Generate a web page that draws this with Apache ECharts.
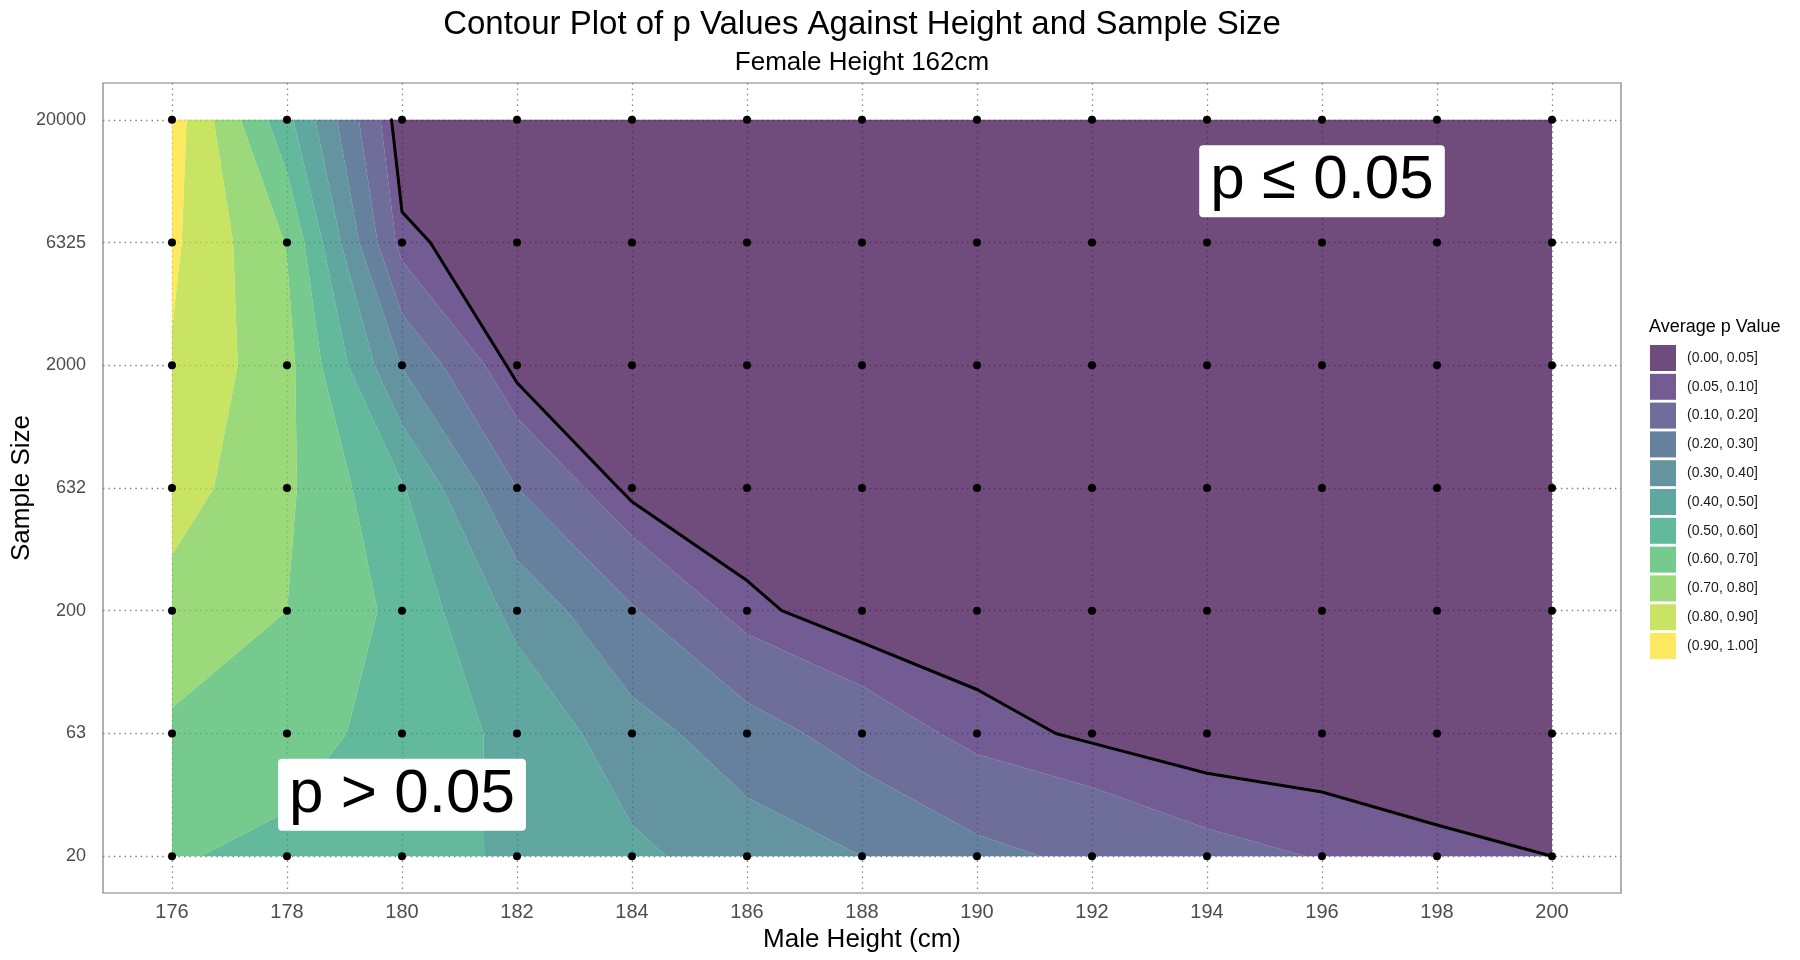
<!DOCTYPE html>
<html>
<head>
<meta charset="utf-8">
<title>Contour Plot of p Values Against Height and Sample Size</title>
<script src="https://cdn.jsdelivr.net/npm/echarts@6.0.0/dist/echarts.min.js"></script>
<style>
    html, body { margin: 0; padding: 0; background: #fff; }
    #contour { width: 1800px; height: 960px; }
</style>
</head>
<body>
<div id="contour"></div>
<script type="text/javascript">
// male heights (x axis, cm)
var maleHeights = [176, 178, 180, 182, 184, 186, 188, 190, 192, 194, 196, 198, 200];
// sample sizes (y axis, bottom to top, evenly spaced on a log scale)
var sampleSizes = ['20', '63', '200', '632', '2000', '6325', '20000'];

// average p value for each male height, one row per sample size
var pN20    = [0.610, 0.570, 0.540, 0.484, 0.421, 0.351, 0.300, 0.227, 0.178, 0.125, 0.096, 0.066, 0.050];
var pN63    = [0.684, 0.653, 0.551, 0.479, 0.339, 0.245, 0.155, 0.074, 0.039, 0.014, 0.008, 0.003, 0.001];
var pN200   = [0.761, 0.700, 0.573, 0.370, 0.209, 0.066, 0.013, 0.007, 0.001, 0.000, 0.000, 0.000, 0.000];
var pN632   = [0.847, 0.718, 0.510, 0.200, 0.030, 0.001, 0.000, 0.000, 0.000, 0.000, 0.000, 0.000, 0.000];
var pN2000  = [0.892, 0.731, 0.296, 0.025, 0.001, 0.000, 0.000, 0.000, 0.000, 0.000, 0.000, 0.000, 0.000];
var pN6325  = [0.919, 0.695, 0.066, 0.001, 0.000, 0.000, 0.000, 0.000, 0.000, 0.000, 0.000, 0.000, 0.000];
var pN20000 = [0.954, 0.529, 0.002, 0.000, 0.000, 0.000, 0.000, 0.000, 0.000, 0.000, 0.000, 0.000, 0.000];

// contour band limits and the significance line
var bandBreaks = [0, 0.05, 0.1, 0.2, 0.3, 0.4, 0.5, 0.6, 0.7, 0.8, 0.9, 1.0];
var significance = 0.05;

var pGrid = [pN20, pN63, pN200, pN632, pN2000, pN6325, pN20000];

// viridis-like fills, drawn with alpha so the grid shows through
var bandColors = [
    'rgba(63,16,79,0.75)', 'rgba(68,36,111,0.75)', 'rgba(63,62,122,0.75)', 'rgba(51,87,124,0.75)',
    'rgba(47,112,127,0.75)', 'rgba(43,138,128,0.75)', 'rgba(46,162,122,0.75)', 'rgba(72,184,104,0.75)',
    'rgba(122,204,78,0.75)', 'rgba(183,219,46,0.75)', 'rgba(252,226,43,0.75)'
];
var fontFamily = "'Liberation Sans', Arial, Helvetica, sans-serif";

var bandLabels = [];
for (var b = 0; b < bandBreaks.length - 1; b++) {
    bandLabels.push('(' + bandBreaks[b].toFixed(2) + ', ' + bandBreaks[b + 1].toFixed(2) + ']');
}

// clip a cell polygon [[x, y, p], ...] so that p >= level (above) or p <= level
function clipCell(poly, level, above) {
    var out = [];
    for (var i = 0; i < poly.length; i++) {
        var a = poly[i], c = poly[(i + 1) % poly.length];
        var inA = above ? a[2] >= level : a[2] <= level;
        var inC = above ? c[2] >= level : c[2] <= level;
        if (inA) out.push(a);
        if (inA !== inC) {
            var t = (level - a[2]) / (c[2] - a[2]);
            out.push([a[0] + t * (c[0] - a[0]), a[1] + t * (c[1] - a[1]), level]);
        }
    }
    return out;
}

function cellCorners(r, c) {
    return [
        [maleHeights[c], r, pGrid[r][c]],
        [maleHeights[c + 1], r, pGrid[r][c + 1]],
        [maleHeights[c + 1], r + 1, pGrid[r + 1][c + 1]],
        [maleHeights[c], r + 1, pGrid[r + 1][c]]
    ];
}

// all polygons of one filled band, in data coordinates
function bandPolygons(band) {
    var lo = band === 0 ? null : bandBreaks[band];
    var hi = band === bandBreaks.length - 2 ? null : bandBreaks[band + 1];
    var polys = [];
    for (var r = 0; r < pGrid.length - 1; r++) {
        for (var c = 0; c < maleHeights.length - 1; c++) {
            var poly = cellCorners(r, c);
            if (lo !== null) poly = clipCell(poly, lo, true);
            if (hi !== null) poly = clipCell(poly, hi, false);
            if (poly.length >= 3) polys.push(poly);
        }
    }
    return polys;
}

// marching squares for one contour level, chained into polylines
function contourLines(level) {
    var segs = [];
    for (var r = 0; r < pGrid.length - 1; r++) {
        for (var c = 0; c < maleHeights.length - 1; c++) {
            var q = cellCorners(r, c);
            var pts = [];
            for (var k = 0; k < 4; k++) {
                var a = q[k], e = q[(k + 1) % 4];
                if ((a[2] > level) !== (e[2] > level)) {
                    var t = (level - a[2]) / (e[2] - a[2]);
                    pts.push([a[0] + t * (e[0] - a[0]), a[1] + t * (e[1] - a[1])]);
                }
            }
            if (pts.length === 2) {
                segs.push(pts);
            } else if (pts.length === 4) {
                var mid = (q[0][2] + q[1][2] + q[2][2] + q[3][2]) / 4;
                if ((mid > level) === (q[0][2] > level)) {
                    segs.push([pts[0], pts[1]]); segs.push([pts[2], pts[3]]);
                } else {
                    segs.push([pts[3], pts[0]]); segs.push([pts[1], pts[2]]);
                }
            }
        }
    }
    var same = function (p, s) { return Math.abs(p[0] - s[0]) < 1e-9 && Math.abs(p[1] - s[1]) < 1e-9; };
    var used = segs.map(function () { return false; });
    var lines = [];
    for (var i = 0; i < segs.length; i++) {
        if (used[i]) continue;
        used[i] = true;
        var line = [segs[i][0], segs[i][1]];
        var grown = true;
        while (grown) {
            grown = false;
            for (var j = 0; j < segs.length; j++) {
                if (used[j]) continue;
                var s = segs[j], head = line[0], tail = line[line.length - 1];
                if (same(tail, s[0])) { line.push(s[1]); }
                else if (same(tail, s[1])) { line.push(s[0]); }
                else if (same(head, s[0])) { line.unshift(s[1]); }
                else if (same(head, s[1])) { line.unshift(s[0]); }
                else continue;
                used[j] = true; grown = true;
            }
        }
        lines.push(line);
    }
    return lines;
}

var series = [];
bandLabels.forEach(function (label, band) {
    var polys = bandPolygons(band);
    series.push({
        name: label,
        type: 'custom',
        silent: true,
        z: 2,
        itemStyle: { color: bandColors[band] },
        data: [band],
        renderItem: function (params, api) {
            var d = '';
            polys.forEach(function (poly) {
                d += 'M' + poly.map(function (p) {
                    var pt = api.coord([p[0], p[1]]);
                    return pt[0].toFixed(2) + ' ' + pt[1].toFixed(2);
                }).join('L') + 'Z';
            });
            return { type: 'path', shape: { pathData: d }, style: { fill: bandColors[band], stroke: null } };
        }
    });
});

var sigLines = contourLines(significance);
series.push({
    name: 'p = 0.05',
    type: 'custom',
    silent: true,
    z: 3,
    data: [0],
    renderItem: function (params, api) {
        return {
            type: 'group',
            children: sigLines.map(function (line) {
                return {
                    type: 'polyline',
                    shape: { points: line.map(function (p) { return api.coord(p); }) },
                    style: { stroke: '#000', lineWidth: 3, fill: null, lineJoin: 'round', lineCap: 'round' }
                };
            })
        };
    }
});

var gridPoints = [];
sampleSizes.forEach(function (n, r) {
    maleHeights.forEach(function (h) { gridPoints.push([h, r]); });
});
series.push({
    name: 'points',
    type: 'scatter',
    silent: true,
    z: 4,
    symbolSize: 8,
    itemStyle: { color: '#000', opacity: 1 },
    data: gridPoints
});

var noteTexts = ['p \u2264 0.05', 'p > 0.05'];
series.push({
    name: 'notes',
    type: 'custom',
    silent: true,
    z: 5,
    data: [[196, 5.5], [180, 0.5]],
    renderItem: function (params, api) {
        var pt = api.coord([api.value(0), api.value(1)]);
        return {
            type: 'text',
            x: pt[0],
            y: pt[1],
            style: {
                text: noteTexts[params.dataIndex],
                fontFamily: fontFamily,
                fontSize: 62,
                lineHeight: 62,
                fill: '#000',
                align: 'center',
                verticalAlign: 'middle',
                backgroundColor: '#fff',
                padding: [5, 11],
                borderRadius: 4
            }
        };
    }
});

var chart = echarts.init(document.getElementById('contour'));
var dotted = { color: '#7f7f7f', width: 1.3, type: [1.4, 4] };
var option = {
    animation: false,
    textStyle: { fontFamily: fontFamily },
    graphic: [
        { type: 'text', x: 862, y: 25, style: { text: 'Contour Plot of p Values Against Height and Sample Size', fontFamily: fontFamily, fontSize: 33, fill: '#000', align: 'center', verticalAlign: 'middle' } },
        { type: 'text', x: 862, y: 63, style: { text: 'Female Height 162cm', fontFamily: fontFamily, fontSize: 26, fill: '#000', align: 'center', verticalAlign: 'middle' } },
        { type: 'text', x: 1649, y: 327, style: { text: 'Average p Value', fontFamily: fontFamily, fontSize: 18, fill: '#000', align: 'left', verticalAlign: 'middle' } }
    ],
    legend: {
        orient: 'vertical',
        left: 1650,
        top: 345,
        padding: 0,
        itemWidth: 26,
        itemHeight: 26,
        itemGap: 2.8,
        icon: 'rect',
        selectedMode: false,
        data: bandLabels,
        textStyle: { fontFamily: fontFamily, fontSize: 14, color: '#1a1a1a', padding: [0, 0, 0, 6] }
    },
    grid: {
        left: 103,
        right: 179,
        top: 83,
        bottom: 67,
        outerBoundsMode: 'none',
        containLabel: false,
        show: true,
        borderColor: '#7f7f7f',
        borderWidth: 1.2,
        backgroundColor: 'transparent'
    },
    xAxis: {
        type: 'value',
        min: 174.8,
        max: 201.2,
        name: 'Male Height (cm)',
        nameLocation: 'middle',
        nameGap: 26,
        nameTextStyle: { fontFamily: fontFamily, fontSize: 26, color: '#000' },
        axisLine: { show: false },
        axisTick: { show: false, customValues: maleHeights },
        axisLabel: { customValues: maleHeights, fontSize: 20, color: '#4d4d4d', margin: 9 },
        splitLine: { show: true, lineStyle: dotted }
    },
    yAxis: {
        type: 'value',
        min: -0.3,
        max: sampleSizes.length - 0.7,
        name: 'Sample Size',
        nameLocation: 'middle',
        nameGap: 68,
        nameMoveOverlap: false,
        nameTextStyle: { fontFamily: fontFamily, fontSize: 26, color: '#000' },
        axisLine: { show: false },
        axisTick: { show: false, customValues: sampleSizes.map(function (n, i) { return i; }) },
        axisLabel: {
            customValues: sampleSizes.map(function (n, i) { return i; }),
            fontSize: 18,
            color: '#4d4d4d',
            margin: 17,
            formatter: function (v) { return sampleSizes[Math.round(v)]; }
        },
        splitLine: { show: true, lineStyle: dotted }
    },
    series: series
};
chart.setOption(option);
</script>
</body>
</html>
